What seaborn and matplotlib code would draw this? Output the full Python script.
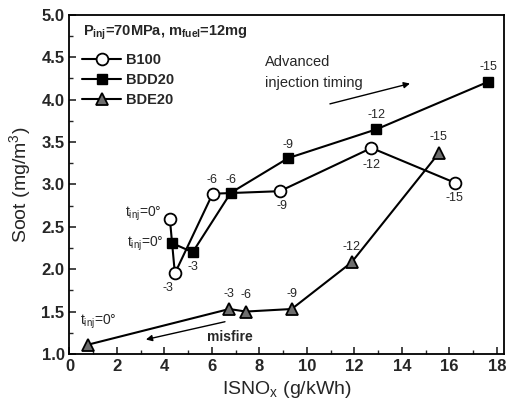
import matplotlib
matplotlib.use("Agg")
import matplotlib.pyplot as plt
import pandas as pd
import seaborn as sns
from matplotlib.lines import Line2D
from matplotlib.ticker import MultipleLocator, FormatStrFormatter

# Injection timing (deg) for each operating point, in plotting order
timing = [0, -3, -6, -9, -12, -15]

# Indicated specific NOx (g/kWh) and soot (mg/m^3) per fuel
b100_nox = [4.23, 4.44, 6.03, 8.86, 12.72, 16.23]
b100_soot = [2.59, 1.95, 2.89, 2.92, 3.43, 3.02]
bdd20_nox = [4.30, 5.19, 6.79, 9.21, 12.93, 17.63]
bdd20_soot = [2.31, 2.20, 2.90, 3.31, 3.65, 4.21]
bde20_nox = [0.79, 6.73, 7.43, 9.36, 11.88, 15.56]
bde20_soot = [1.11, 1.53, 1.50, 1.53, 2.08, 3.37]

fuels = ["B100", "BDD20", "BDE20"]
condition = r"P$_{\mathbf{inj}}$=70MPa, m$_{\mathbf{fuel}}$=12mg"

sns.set_style("ticks")
plt.rcParams["font.family"] = ["Liberation Sans", "DejaVu Sans"]
plt.rcParams["mathtext.fontset"] = "custom"
plt.rcParams["mathtext.rm"] = "Liberation Sans"
plt.rcParams["mathtext.bf"] = "Liberation Sans:bold"
plt.rcParams["mathtext.it"] = "Liberation Sans"

frames = []
for name, nox, soot in [("B100", b100_nox, b100_soot),
                        ("BDD20", bdd20_nox, bdd20_soot),
                        ("BDE20", bde20_nox, bde20_soot)]:
    frames.append(pd.DataFrame({"fuel": name, "timing": timing,
                                "nox": nox, "soot": soot}))
df = pd.concat(frames, ignore_index=True)

styles = {
    "B100": dict(marker="o", markersize=8.5, markerfacecolor="white",
                 markeredgecolor="black", markeredgewidth=1.3),
    "BDD20": dict(marker="s", markersize=7.2, markerfacecolor="black",
                  markeredgecolor="black", markeredgewidth=1.0),
    "BDE20": dict(marker="^", markersize=9, markerfacecolor="#6e6e6e",
                  markeredgecolor="black", markeredgewidth=1.3),
}

# label offsets in pixels (dx, dy) and horizontal alignment for each point
label_pos = {
    "B100": [(-8, 5, "right"), (-7, -15, "center"), (-1, 14, "center"),
             (2, -15, "center"), (0, -17, "center"), (0, -15, "center")],
    "BDD20": [(-8, -1, "right"), (0, -15, "center"), (0, 13, "center"),
              (0, 13, "center"), (0, 14, "center"), (0, 15, "center")],
    "BDE20": [(10, 23, "center"), (0, 15, "center"), (0, 17, "center"),
              (0, 15, "center"), (0, 15, "center"), (0, 16, "center")],
}

fig = plt.figure(figsize=(5.07, 4.13), dpi=100)
ax = fig.add_axes([0.137, 0.143, 0.857, 0.821])

for name in fuels:
    sub = df[df["fuel"] == name]
    sns.lineplot(data=sub, x="nox", y="soot", sort=False, estimator=None,
                 color="black", linewidth=1.5, ax=ax, legend=False,
                 **styles[name])
    for (_, row), (dx, dy, ha) in zip(sub.iterrows(), label_pos[name]):
        if row["timing"] == 0:
            txt, fs = r"t$_{\mathrm{inj}}$=0°", 10
        else:
            txt, fs = str(int(row["timing"])), 9
        ax.annotate(txt, xy=(row["nox"], row["soot"]), xytext=(dx, dy),
                    textcoords="offset pixels", ha=ha, va="center",
                    fontsize=fs)

# direction arrows
ax.annotate("", xy=(14.34, 4.19), xytext=(10.97, 3.95),
            arrowprops=dict(arrowstyle="-|>", color="black", lw=1.0,
                            mutation_scale=9, shrinkA=0, shrinkB=0))
ax.text(8.23, 4.32, "Advanced\ninjection timing", fontsize=10.5,
        ha="left", va="center", linespacing=1.55)
ax.annotate("", xy=(3.22, 1.17), xytext=(6.55, 1.38),
            arrowprops=dict(arrowstyle="-|>", color="black", lw=1.0,
                            mutation_scale=9, shrinkA=0, shrinkB=0))
ax.text(6.76, 1.20, "misfire", fontsize=10, fontweight="bold",
        ha="center", va="center")

ax.set_xlim(0, 18.3)
ax.set_ylim(1.0, 5.0)
ax.xaxis.set_major_locator(MultipleLocator(2))
ax.xaxis.set_minor_locator(MultipleLocator(1))
ax.yaxis.set_major_locator(MultipleLocator(0.5))
ax.yaxis.set_minor_locator(MultipleLocator(0.25))
ax.yaxis.set_major_formatter(FormatStrFormatter("%.1f"))
ax.tick_params(which="major", direction="in", length=5, width=1.2,
               labelsize=12, top=False, right=False)
ax.tick_params(which="minor", direction="in", length=3, width=1.0,
               top=False, right=False)
for lab in ax.get_xticklabels() + ax.get_yticklabels():
    lab.set_fontweight("bold")
for sp in ax.spines.values():
    sp.set_linewidth(1.3)
    sp.set_color("black")

ax.set_xlabel(r"ISNO$_{\mathrm{x}}$ (g/kWh)", fontsize=14, labelpad=4)
ax.set_ylabel(r"Soot (mg/m$^{3}$)", fontsize=14, labelpad=6)

# operating condition header above the legend entries
ax.text(0.031, 0.947, condition, transform=ax.transAxes, fontsize=10.5,
        fontweight="bold", ha="left", va="center")

handles = [Line2D([], [], color="black", linewidth=1.5, **styles[n])
           for n in fuels]
ax.legend(handles, fuels, loc="upper left", frameon=False,
          prop=dict(weight="bold", size=10.5),
          handlelength=2.7, handletextpad=0.3, labelspacing=0.42,
          borderaxespad=0.0, borderpad=0.0,
          bbox_to_anchor=(0.029, 0.888))

fig.savefig("out.png", dpi=100)
